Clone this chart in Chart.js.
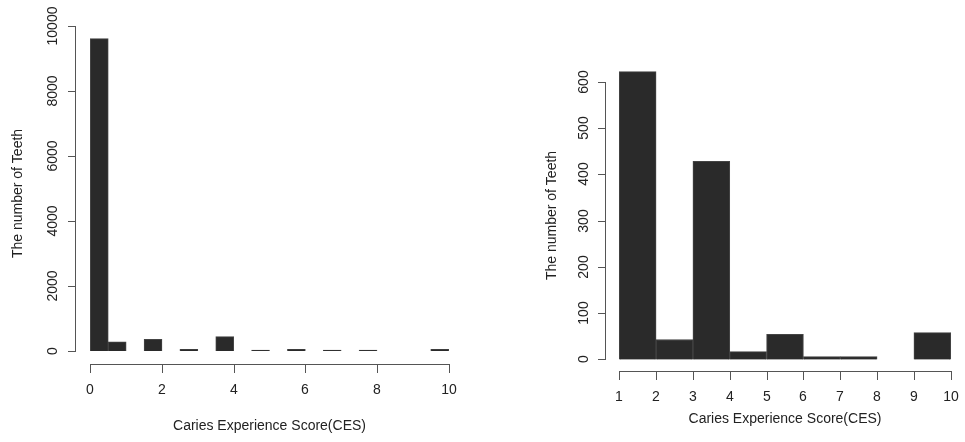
<!DOCTYPE html>
<html>
<head>
<meta charset="utf-8">
<script src="https://cdn.jsdelivr.net/npm/chart.js@4.4.1/dist/chart.umd.min.js"></script>
<style>
  body { margin: 0; background: #fff; }
  canvas { position: absolute; top: 0; }
</style>
</head>
<body>
<canvas id="allChart" width="480" height="442" style="left:0"></canvas>
<canvas id="cariesChart" width="485" height="442" style="left:480px"></canvas>
<script>
// histogram 1: all teeth, bins of 0.5 (centres)
const allBins = [0.25, 0.75, 1.25, 1.75, 2.25, 2.75, 3.25, 3.75, 4.25, 4.75,
                 5.25, 5.75, 6.25, 6.75, 7.25, 7.75, 8.25, 8.75, 9.25, 9.75];
const allCounts = [9610, 280, 0, 360, 0, 55, 0, 440, 0, 25,
                   0, 55, 0, 25, 0, 25, 0, 0, 0, 55];
const allXTicks = [0, 2, 4, 6, 8, 10];
const allYTicks = [0, 2000, 4000, 6000, 8000, 10000];

// histogram 2: teeth with caries, bins of 1 (centres)
const cariesBins = [1.5, 2.5, 3.5, 4.5, 5.5, 6.5, 7.5, 8.5, 9.5];
const cariesCounts = [622, 43, 428, 17, 54, 6, 6, 0, 58];
const cariesXTicks = [1, 2, 3, 4, 5, 6, 7, 8, 9, 10];
const cariesYTicks = [0, 100, 200, 300, 400, 500, 600];

const xTitle = 'Caries Experience Score(CES)';
const yTitle = 'The number of Teeth';

const FONT = '14px "Liberation Sans", Arial, sans-serif';

// R style axes: detached lines, outward ticks, rotated y labels
const rAxes = {
  id: 'rAxes',
  afterDraw(chart, args, opts) {
    const { ctx, chartArea } = chart;
    const x = chart.scales.x, y = chart.scales.y;
    const yt = opts.yTicks.map(v => v);
    const xt = opts.xTicks.map(v => v);
    const ys = yt.map(v => Math.round(y.getPixelForValue(v)));
    const xs = xt.map(v => Math.round(x.getPixelForValue(v)));
    const ax = Math.round(chartArea.left);
    const ay = Math.round(chartArea.bottom);
    const yTop = Math.min(...ys), yBot = Math.max(...ys);
    const xL = Math.min(...xs), xR = Math.max(...xs);

    ctx.save();
    ctx.fillStyle = '#555';
    // y axis line + ticks
    ctx.fillRect(ax - 1, yTop, 1, yBot - yTop + 1);
    ys.forEach(py => ctx.fillRect(ax - 8, py, 8, 1));
    // x axis line + ticks
    ctx.fillRect(xL, ay, xR - xL + 1, 1);
    xs.forEach(px => ctx.fillRect(px, ay, 1, 9));

    // labels
    ctx.fillStyle = '#222';
    ctx.font = FONT;
    ctx.textAlign = 'center';
    ctx.textBaseline = 'middle';
    yt.forEach((v, i) => {
      ctx.save();
      ctx.translate(ax - opts.yLabelGap, ys[i]);
      ctx.rotate(-Math.PI / 2);
      ctx.fillText(String(v), 0, 0);
      ctx.restore();
    });
    xt.forEach((v, i) => {
      ctx.fillText(String(v), xs[i], ay + 26);
    });

    // titles
    const cx = (chartArea.left + chartArea.right) / 2;
    const cy = (chartArea.top + chartArea.bottom) / 2 + opts.yTitleShift;
    ctx.fillText(xTitle, cx, ay + opts.xTitleGap);
    ctx.save();
    ctx.translate(ax - opts.yTitleGap, cy);
    ctx.rotate(-Math.PI / 2);
    ctx.fillText(yTitle, 0, 0);
    ctx.restore();

    ctx.restore();
  }
};

function makeHist(canvasId, bins, counts, xRange, yRange, step, padding, axisOpts) {
  return new Chart(document.getElementById(canvasId), {
    type: 'bar',
    data: {
      labels: bins,
      datasets: [{
        data: bins.map((b, i) => ({ x: b, y: counts[i] })),
        backgroundColor: '#2a2a2a',
        borderColor: '#444',
        borderWidth: 1,
        barPercentage: 1,
        categoryPercentage: 1
      }]
    },
    options: {
      responsive: false,
      animation: false,
      layout: { padding: padding },
      scales: {
        x: {
          type: 'linear',
          min: xRange[0],
          max: xRange[1],
          offset: false,
          display: false,
          ticks: { stepSize: step, includeBounds: false }
        },
        y: {
          min: yRange[0],
          max: yRange[1],
          display: false,
          ticks: { includeBounds: false }
        }
      },
      plugins: {
        legend: { display: false },
        tooltip: { enabled: false },
        rAxes: axisOpts
      }
    },
    plugins: [rAxes]
  });
}

makeHist('allChart', allBins, allCounts, [-0.4, 10.4], [-400, 10400], 2,
  { left: 76, right: 17, top: 13, bottom: 78 },
  { xTicks: allXTicks, yTicks: allYTicks, yLabelGap: 23, yTitleGap: 58, yTitleShift: 5, xTitleGap: 62 });

makeHist('cariesChart', cariesBins, cariesCounts, [0.64, 10.36], [-25, 647], 1,
  { left: 126, right: 1, top: 60, bottom: 71 },
  { xTicks: cariesXTicks, yTicks: cariesYTicks, yLabelGap: 22, yTitleGap: 54, yTitleShift: 0, xTitleGap: 48 });
</script>
</body>
</html>
